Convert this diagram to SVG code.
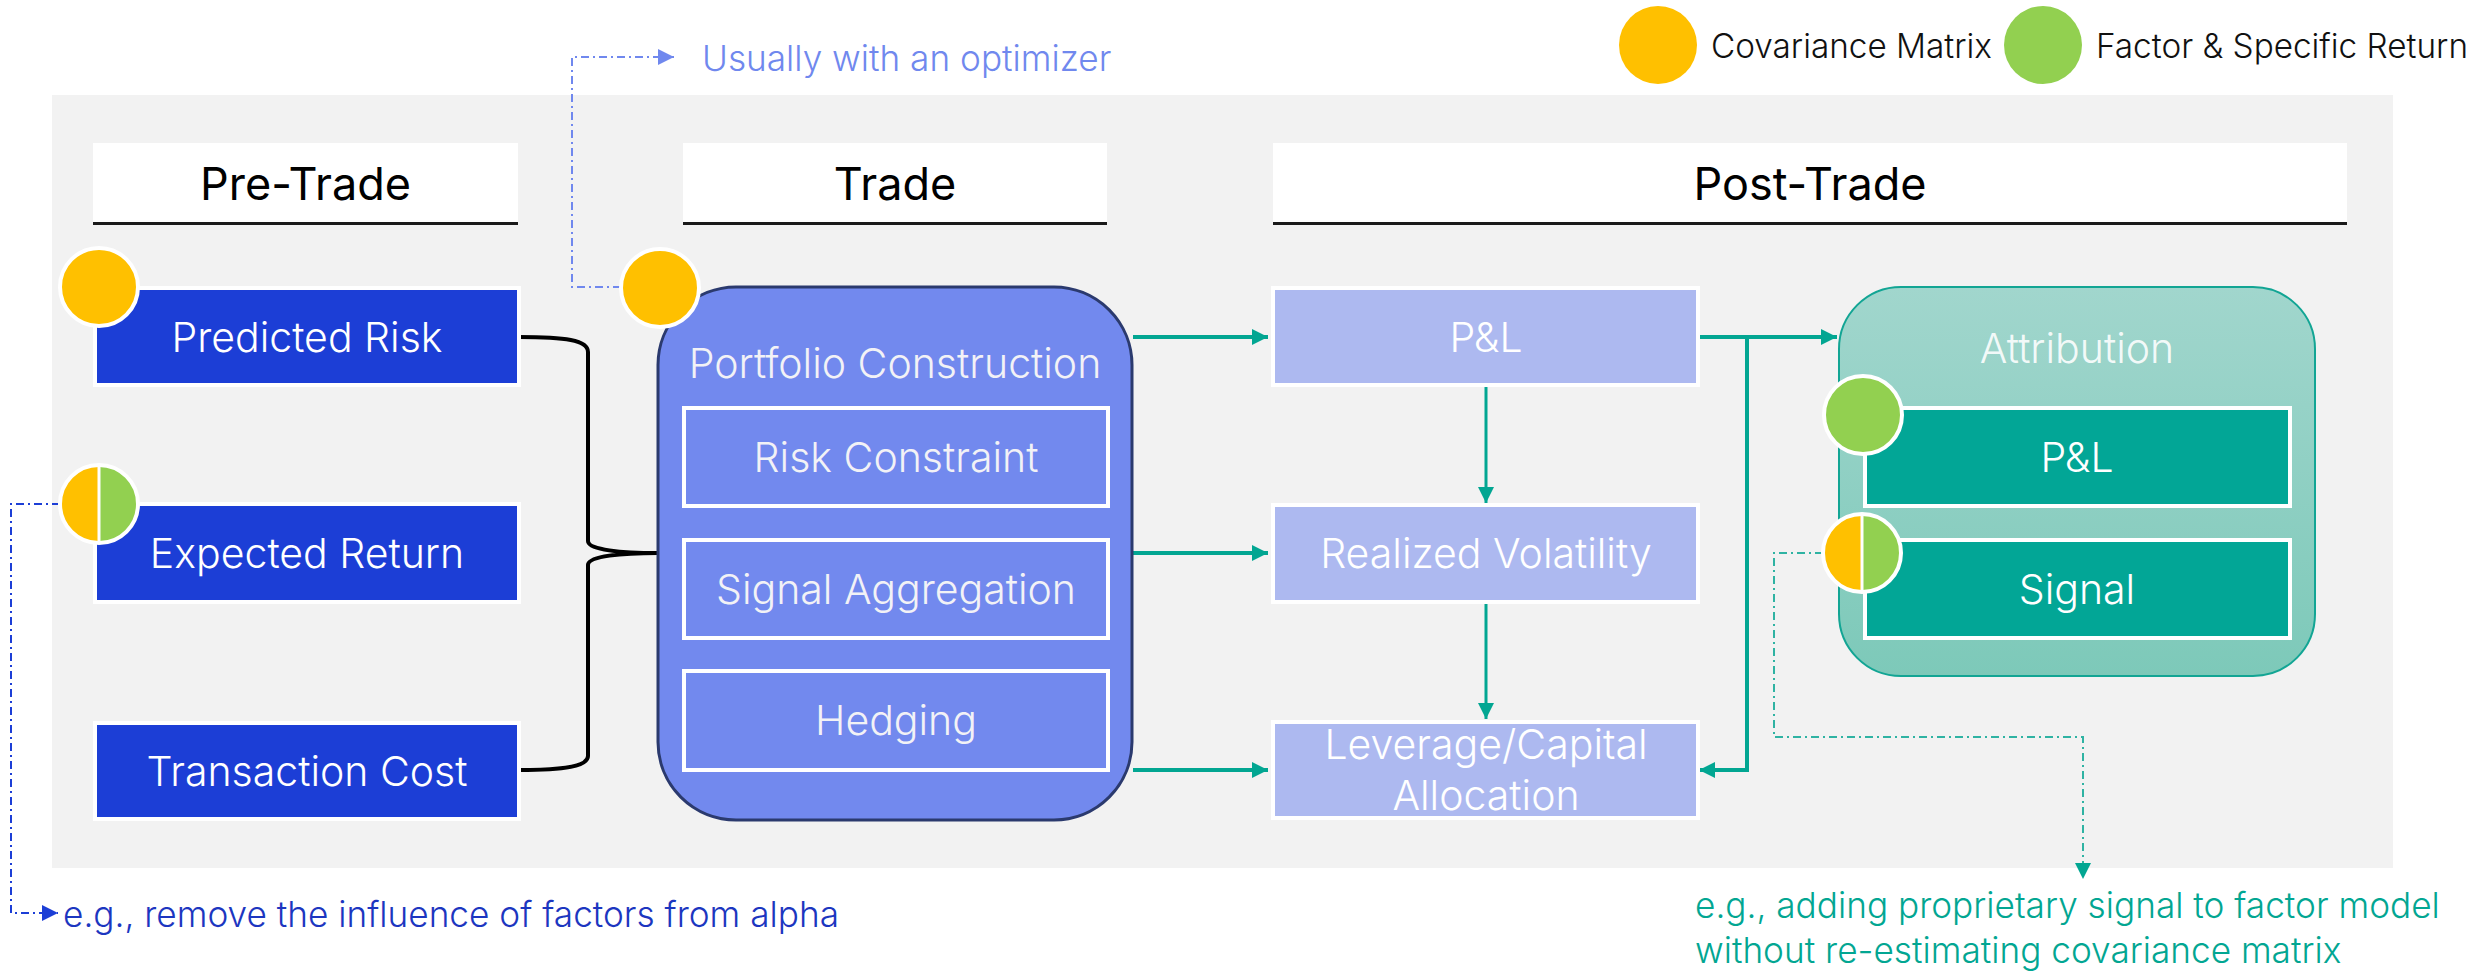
<svg xmlns="http://www.w3.org/2000/svg" width="2479" height="971" viewBox="0 0 2479 971">
  <defs>
    <style>
      text { font-family: "Inter", "Liberation Sans", sans-serif; font-weight: 300; }
      .hdr { font-size: 45px; fill: #000000; text-anchor: middle; font-weight: 400; }
      .lbl { font-size: 41px; fill: #FFFFFF; text-anchor: middle; }
      .soft { fill: #F2F2F6; }
      .legend { font-size: 33.3px; fill: #111111; }
      .note { font-size: 35.2px; }
      .hdrbox { fill: #FFFFFF; }
      .hdrline { stroke: #1A1A1A; stroke-width: 3; }
      .pre { fill: #1C3ED6; stroke: #FFFFFF; stroke-width: 4; }
      .post { fill: #ADB9F0; stroke: #FFFFFF; stroke-width: 4; }
      .inner { fill: #7289EE; stroke: #FFFFFF; stroke-width: 4; }
      .attr-inner { fill: #02A696; stroke: #FFFFFF; stroke-width: 4; }
      .flow { fill: none; stroke: #02A692; stroke-width: 4; }
      .flow-thin { fill: none; stroke: #02A692; stroke-width: 3; }
      .brace { fill: none; stroke: #000000; stroke-width: 4; }
      .dash { fill: none; stroke-width: 2; stroke-dasharray: 8 4 2 4; }
      .cov { fill: #FFC000; }
      .fac { fill: #92D050; }
      .ring { fill: none; stroke: #FFFFFF; stroke-width: 4; }
    </style>
    <marker id="arrowTeal" markerUnits="userSpaceOnUse" markerWidth="16" markerHeight="16" refX="16" refY="8" orient="auto">
      <path d="M0,0 L16,8 L0,16 Z" fill="#02A692"/>
    </marker>
    <marker id="arrowBlueLight" markerUnits="userSpaceOnUse" markerWidth="16" markerHeight="16" refX="16" refY="8" orient="auto">
      <path d="M0,0 L16,8 L0,16 Z" fill="#7088EE"/>
    </marker>
    <marker id="arrowBlueDark" markerUnits="userSpaceOnUse" markerWidth="16" markerHeight="16" refX="16" refY="8" orient="auto">
      <path d="M0,0 L16,8 L0,16 Z" fill="#1C3ED6"/>
    </marker>
    <marker id="arrowTealNote" markerUnits="userSpaceOnUse" markerWidth="16" markerHeight="16" refX="16" refY="8" orient="auto">
      <path d="M0,0 L16,8 L0,16 Z" fill="#02A692"/>
    </marker>
    <linearGradient id="attrFill" x1="0" y1="0" x2="0" y2="1">
      <stop offset="0" stop-color="#A1D6CD"/>
      <stop offset="1" stop-color="#7DC9B9"/>
    </linearGradient>
  </defs>

  <!-- stage panel -->
  <rect x="52" y="95" width="2341" height="773" fill="#F2F2F2"/>

  <!-- legend -->
  <g id="legend">
    <circle class="cov" cx="1658" cy="45" r="39"/>
    <text class="legend" x="1711" y="58">Covariance Matrix</text>
    <circle class="fac" cx="2043" cy="45" r="39"/>
    <text class="legend" x="2096" y="58">Factor &amp; Specific Return</text>
  </g>

  <!-- stage headers -->
  <g id="header-pre">
    <rect class="hdrbox" x="93" y="143" width="425" height="80"/>
    <line class="hdrline" x1="93" y1="223.5" x2="518" y2="223.5"/>
    <text class="hdr" x="305.5" y="200">Pre-Trade</text>
  </g>
  <g id="header-trade">
    <rect class="hdrbox" x="683" y="143" width="424" height="80"/>
    <line class="hdrline" x1="683" y1="223.5" x2="1107" y2="223.5"/>
    <text class="hdr" x="895" y="200">Trade</text>
  </g>
  <g id="header-post">
    <rect class="hdrbox" x="1273" y="143" width="1074" height="80"/>
    <line class="hdrline" x1="1273" y1="223.5" x2="2347" y2="223.5"/>
    <text class="hdr" x="1810" y="200">Post-Trade</text>
  </g>

  <!-- connectors -->
  <g id="connectors">
    <path class="brace" d="M519,337 C565,337 588,340 588,352 V541 C588,550 622,553 658,553 C622,553 588,556 588,565 V756 C588,766 565,770 519,770"/>
    <path class="flow" d="M1133,337 H1268" marker-end="url(#arrowTeal)"/>
    <path class="flow" d="M1133,553 H1268" marker-end="url(#arrowTeal)"/>
    <path class="flow" d="M1133,770 H1268" marker-end="url(#arrowTeal)"/>
    <path class="flow-thin" d="M1486,387 V503" marker-end="url(#arrowTeal)"/>
    <path class="flow-thin" d="M1486,603 V719" marker-end="url(#arrowTeal)"/>
    <path class="flow" d="M1700,337 H1837" marker-end="url(#arrowTeal)"/>
    <path class="flow" d="M1747,337 V770 H1699" marker-end="url(#arrowTeal)"/>
    <path class="dash" stroke="#7088EE" d="M621,287 H572 V57 H674" marker-end="url(#arrowBlueLight)"/>
    <path class="dash" stroke="#1C3ED6" d="M60,504 H11 V913 H58" marker-end="url(#arrowBlueDark)"/>
    <path class="dash" stroke="#2FB3A3" d="M1823,553 H1774 V737 H2083 V879" marker-end="url(#arrowTealNote)"/>
  </g>

  <!-- pre-trade inputs -->
  <g id="predicted-risk">
    <rect class="pre" x="95" y="288" width="424" height="97"/>
    <text class="lbl" x="307" y="352">Predicted Risk</text>
  </g>
  <g id="expected-return">
    <rect class="pre" x="95" y="504" width="424" height="98"/>
    <text class="lbl" x="307" y="568">Expected Return</text>
  </g>
  <g id="transaction-cost">
    <rect class="pre" x="95" y="723" width="424" height="96"/>
    <text class="lbl" x="307" y="786">Transaction Cost</text>
  </g>

  <!-- trade -->
  <g id="portfolio-construction">
    <rect x="658" y="287" width="474" height="533" rx="78" ry="78" fill="#7289EE" stroke="#2B3A6E" stroke-width="3"/>
    <text class="lbl soft" x="895" y="378">Portfolio Construction</text>
  </g>
  <g id="risk-constraint">
    <rect class="inner" x="684" y="408" width="424" height="98"/>
    <text class="lbl soft" x="896" y="472">Risk Constraint</text>
  </g>
  <g id="signal-aggregation">
    <rect class="inner" x="684" y="540" width="424" height="98"/>
    <text class="lbl soft" x="896" y="604">Signal Aggregation</text>
  </g>
  <g id="hedging">
    <rect class="inner" x="684" y="671" width="424" height="99"/>
    <text class="lbl soft" x="896" y="735">Hedging</text>
  </g>

  <!-- post-trade -->
  <g id="pnl">
    <rect class="post" x="1273" y="288" width="425" height="97"/>
    <text class="lbl" x="1486" y="352">P&amp;L</text>
  </g>
  <g id="realized-volatility">
    <rect class="post" x="1273" y="505" width="425" height="97"/>
    <text class="lbl" x="1486" y="568">Realized Volatility</text>
  </g>
  <g id="leverage-allocation">
    <rect class="post" x="1273" y="722" width="425" height="96"/>
    <text class="lbl" x="1486" y="759">Leverage/Capital</text>
    <text class="lbl" x="1486" y="810">Allocation</text>
  </g>
  <g id="attribution">
    <rect x="1839" y="287" width="476" height="389" rx="62" ry="62" fill="url(#attrFill)" stroke="#12A594" stroke-width="2"/>
    <text class="lbl" x="2077" y="363" fill-opacity="0.9">Attribution</text>
  </g>
  <g id="attribution-pnl">
    <rect class="attr-inner" x="1865" y="408" width="425" height="98"/>
    <text class="lbl" x="2077" y="472">P&amp;L</text>
  </g>
  <g id="attribution-signal">
    <rect class="attr-inner" x="1865" y="540" width="425" height="98"/>
    <text class="lbl" x="2077" y="604">Signal</text>
  </g>

  <!-- model-source badges -->
  <g id="badge-predicted-risk">
    <circle class="cov" cx="99" cy="287" r="39"/>
    <circle class="ring" cx="99" cy="287" r="39"/>
  </g>
  <g id="badge-expected-return">
    <path class="cov" d="M99,465 A39,39 0 0 0 99,543 Z"/>
    <path class="fac" d="M99,465 A39,39 0 0 1 99,543 Z"/>
    <line x1="99" y1="465" x2="99" y2="543" stroke="#FFFFFF" stroke-width="3"/>
    <circle class="ring" cx="99" cy="504" r="39"/>
  </g>
  <g id="badge-portfolio">
    <circle class="cov" cx="660" cy="288" r="39"/>
    <circle class="ring" cx="660" cy="288" r="39"/>
  </g>
  <g id="badge-attribution-pnl">
    <circle class="fac" cx="1863" cy="415" r="39"/>
    <circle class="ring" cx="1863" cy="415" r="39"/>
  </g>
  <g id="badge-attribution-signal">
    <path class="cov" d="M1862,514 A39,39 0 0 0 1862,592 Z"/>
    <path class="fac" d="M1862,514 A39,39 0 0 1 1862,592 Z"/>
    <line x1="1862" y1="514" x2="1862" y2="592" stroke="#FFFFFF" stroke-width="3"/>
    <circle class="ring" cx="1862" cy="553" r="39"/>
  </g>

  <!-- annotations -->
  <g id="note-optimizer">
    <text class="note" x="702" y="71" fill="#7088EE">Usually with an optimizer</text>
  </g>
  <g id="note-alpha">
    <text class="note" x="63" y="927" fill="#1C36C0">e.g., remove the influence of factors from alpha</text>
  </g>
  <g id="note-signal">
    <text class="note" x="1695" y="918" fill="#02A692">e.g., adding proprietary signal to factor model</text>
    <text class="note" x="1695" y="963" fill="#02A692">without re-estimating covariance matrix</text>
  </g>
</svg>
